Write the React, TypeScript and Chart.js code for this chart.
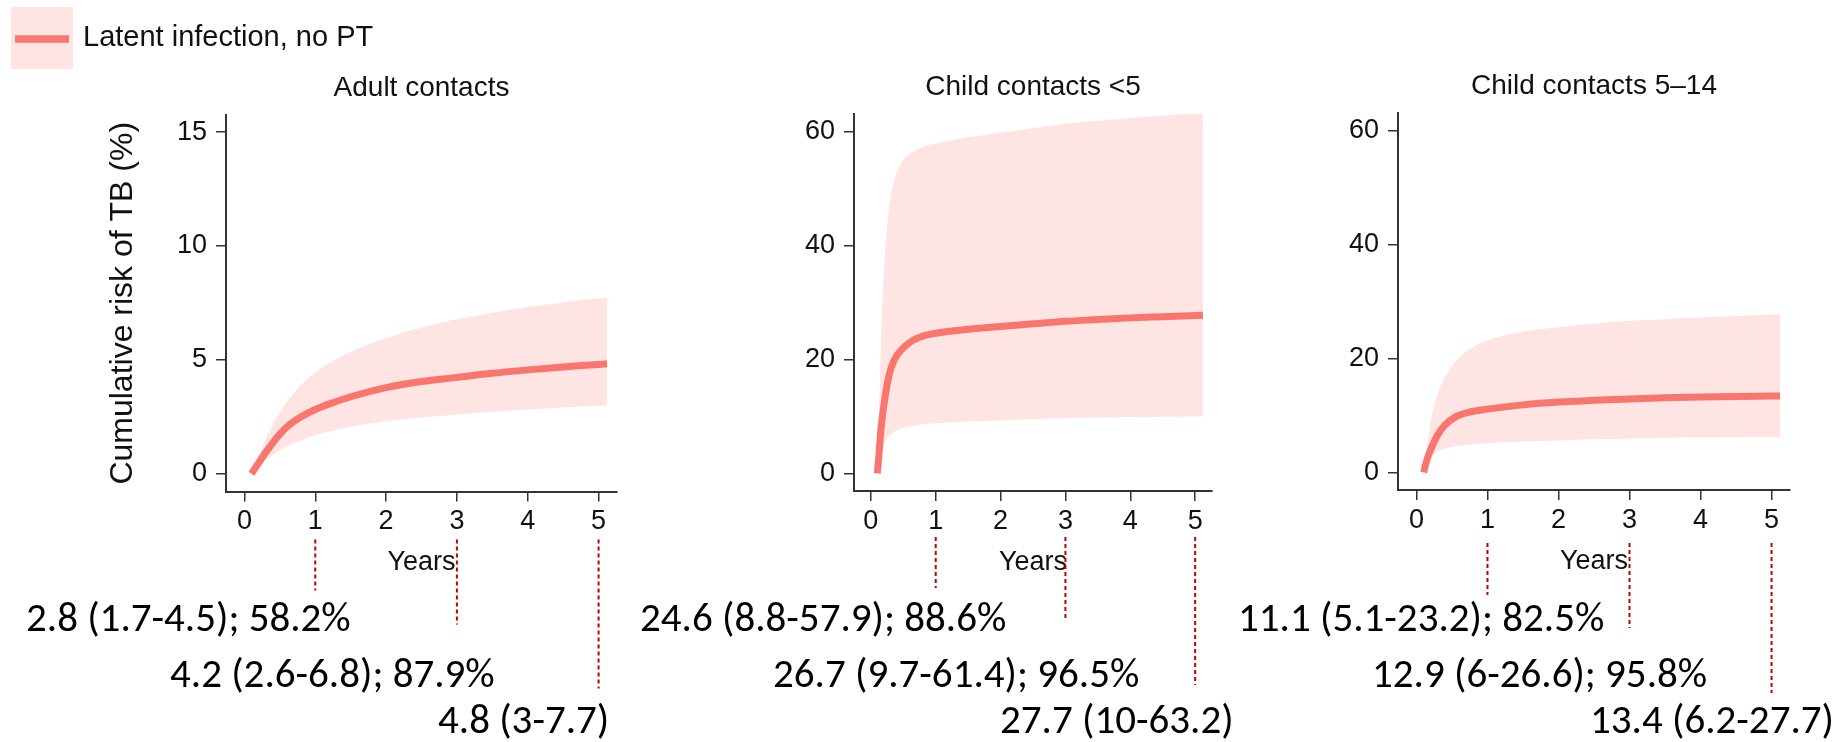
import React, { useEffect, useRef } from "react";
import { Chart, registerables } from "chart.js";

Chart.register(...registerables);

const W = 1847;
const H = 742;
const FONT = '"Liberation Sans", Arial, Helvetica, sans-serif';
const NOTE_FONT = 'Carlito, Calibri, Lato, sans-serif';
const LINE_COLOR = "#F8766D";
const BAND_COLOR = "rgba(248,118,109,0.2)";
const MARK_COLOR = "#C00000";
const AXIS_COLOR = "#333333";
const TEXT_COLOR = "#111111";

// ---- text ----
const legendLabel = "Latent infection, no PT";
const yTitle = "Cumulative risk of TB (%)";
const xTitle = "Years";
const panelTitles = ["Adult contacts", "Child contacts <5", "Child contacts 5–14"];

// ---- ticks ----
const xTicks = [0, 1, 2, 3, 4, 5];
const yTicksAdult = [0, 5, 10, 15];
const yTicksChild = [0, 20, 40, 60];
const markerYears = [1, 3, 5];

// ---- Adult contacts ----
const adultYears = [0.1, 0.2, 0.3, 0.4, 0.5, 0.6, 0.8, 1, 1.25, 1.5, 2, 2.5, 3, 3.5, 4, 4.5, 5, 5.12];
const adultRisk = [0, 0.47, 0.93, 1.36, 1.74, 2.06, 2.5, 2.82, 3.12, 3.38, 3.78, 4.05, 4.23, 4.41, 4.56, 4.69, 4.8, 4.83];
const adultUpper = [0, 0.75, 1.5, 2.15, 2.7, 3.15, 3.9, 4.45, 4.95, 5.35, 5.95, 6.42, 6.78, 7.07, 7.32, 7.52, 7.7, 7.74];
const adultLower = [0, 0.3, 0.58, 0.82, 1.03, 1.2, 1.47, 1.7, 1.9, 2.06, 2.3, 2.47, 2.6, 2.72, 2.82, 2.91, 2.98, 3.0];
const adultNotes = ["2.8 (1.7-4.5); 58.2%", "4.2 (2.6-6.8); 87.9%", "4.8 (3-7.7)"];

// ---- Child contacts <5 ----
const youngYears = [0.1, 0.128, 0.154, 0.205, 0.28, 0.36, 0.49, 0.64, 0.8, 1, 1.5, 2, 2.5, 3, 3.5, 4, 4.5, 5, 5.12];
const youngRisk = [0, 3.8, 7.6, 12.3, 17.2, 19.9, 21.9, 23.3, 24.1, 24.6, 25.3, 25.8, 26.25, 26.7, 27.0, 27.3, 27.5, 27.7, 27.75];
const youngUpper = [0, 10.5, 22, 36, 46.7, 51.4, 54.9, 56.4, 57.3, 57.9, 59, 59.8, 60.6, 61.4, 61.9, 62.4, 62.8, 63.2, 63.3];
const youngLower = [0, 2.2, 3.8, 5.3, 6.5, 7.3, 7.9, 8.3, 8.6, 8.8, 9.1, 9.3, 9.5, 9.7, 9.8, 9.9, 9.95, 10, 10.05];
const youngNotes = ["24.6 (8.8-57.9); 88.6%", "26.7 (9.7-61.4); 96.5%", "27.7 (10-63.2)"];

// ---- Child contacts 5-14 ----
const olderYears = [0.1, 0.15, 0.2, 0.3, 0.4, 0.55, 0.75, 1, 1.5, 2, 2.5, 3, 3.5, 4, 4.5, 5, 5.12];
const olderRisk = [0, 2.3, 4.0, 6.6, 8.3, 9.75, 10.6, 11.1, 11.85, 12.35, 12.65, 12.9, 13.08, 13.22, 13.32, 13.4, 13.42];
const olderUpper = [0, 4.5, 9.0, 13.8, 16.7, 19.4, 21.6, 23.2, 24.7, 25.5, 26.1, 26.6, 26.9, 27.2, 27.45, 27.7, 27.75];
const olderLower = [0, 1.8, 2.7, 3.7, 4.2, 4.6, 4.9, 5.1, 5.4, 5.6, 5.8, 5.95, 6.05, 6.1, 6.15, 6.2, 6.2];
const olderNotes = ["11.1 (5.1-23.2); 82.5%", "12.9 (6-26.6); 95.8%", "13.4 (6.2-27.7)"];

type Panel = {
  title: string;
  years: number[];
  risk: number[];
  upper: number[];
  lower: number[];
  yTicks: number[];
  yMin: number;
  yMax: number;
  notes: string[];
  area: { left: number; right: number; top: number; bottom: number };
  noteX: number[];
  markStart: number;
  markEnds: number[];
  showYTitle: boolean;
  showLegend: boolean;
};

const noteY = [621, 677, 723];

const panels: Panel[] = [
  {
    title: panelTitles[0], years: adultYears, risk: adultRisk, upper: adultUpper, lower: adultLower,
    yTicks: yTicksAdult, yMin: -0.78, yMax: 15.75, notes: adultNotes,
    area: { left: 226, right: 617, top: 115, bottom: 491.5 },
    noteX: [26, 170, 438], markStart: 48, markEnds: [99, 133, 197],
    showYTitle: true, showLegend: true,
  },
  {
    title: panelTitles[1], years: youngYears, risk: youngRisk, upper: youngUpper, lower: youngLower,
    yTicks: yTicksChild, yMin: -3.1, yMax: 63.1, notes: youngNotes,
    area: { left: 854, right: 1212, top: 114, bottom: 491 },
    noteX: [640, 773, 1000], markStart: 46, markEnds: [97, 129, 194],
    showYTitle: false, showLegend: false,
  },
  {
    title: panelTitles[2], years: olderYears, risk: olderRisk, upper: olderUpper, lower: olderLower,
    yTicks: yTicksChild, yMin: -3.1, yMax: 63.1, notes: olderNotes,
    area: { left: 1398, right: 1790, top: 113, bottom: 490 },
    noteX: [1238, 1372, 1590], markStart: 53, markEnds: [105, 138, 203],
    showYTitle: false, showLegend: false,
  },
];

const XH = 40;

const pts = (xs: number[], ys: number[]) => xs.map((x, i) => ({ x, y: ys[i] }));

function overlay(p: Panel) {
  return {
    id: "overlay",
    afterDraw(chart: any) {
      const { ctx, chartArea: a, scales } = chart;
      const xs = scales.x;
      const cx = (a.left + a.right) / 2;
      ctx.save();
      ctx.fillStyle = TEXT_COLOR;
      ctx.textBaseline = "middle";
      ctx.textAlign = "center";
      ctx.font = `28px ${FONT}`;
      ctx.fillText(p.title, cx, a.top - 27);
      ctx.font = `27px ${FONT}`;
      ctx.fillText(xTitle, cx, a.bottom + 71.5);
      if (p.showYTitle) {
        ctx.save();
        ctx.translate(123, (a.top + a.bottom) / 2);
        ctx.rotate(-Math.PI / 2);
        ctx.font = `32px ${FONT}`;
        ctx.fillText(yTitle, 0, 0);
        ctx.restore();
      }
      if (p.showLegend) {
        ctx.fillStyle = BAND_COLOR;
        ctx.fillRect(11, 7, 62, 62);
        ctx.strokeStyle = LINE_COLOR;
        ctx.lineWidth = 7.5;
        ctx.beginPath();
        ctx.moveTo(15, 39);
        ctx.lineTo(69, 39);
        ctx.stroke();
        ctx.fillStyle = TEXT_COLOR;
        ctx.textAlign = "left";
        ctx.font = `29px ${FONT}`;
        ctx.fillText(legendLabel, 83, 38);
      }
      // notes
      ctx.fillStyle = "#000000";
      ctx.textAlign = "left";
      ctx.font = `41px ${NOTE_FONT}`;
      p.notes.forEach((t, i) => ctx.fillText(t, p.noteX[i], noteY[i]));
      // dashed markers
      ctx.strokeStyle = MARK_COLOR;
      ctx.lineWidth = 2;
      ctx.setLineDash([4, 3]);
      markerYears.forEach((yr, i) => {
        const x = xs.getPixelForValue(yr);
        ctx.beginPath();
        ctx.moveTo(x, a.bottom + p.markStart);
        ctx.lineTo(x, a.bottom + p.markEnds[i]);
        ctx.stroke();
      });
      ctx.restore();
    },
  };
}

function makeConfig(p: Panel): any {
  const tickFont = { family: FONT, size: 27 };
  return {
    type: "line",
    data: {
      datasets: [
        {
          label: "estimate",
          data: pts(p.years, p.risk),
          borderColor: LINE_COLOR,
          borderWidth: 7,
          pointRadius: 0,
          fill: false,
          cubicInterpolationMode: "monotone",
        },
        {
          label: "upper",
          data: pts(p.years, p.upper),
          borderColor: "rgba(0,0,0,0)",
          borderWidth: 1,
          backgroundColor: BAND_COLOR,
          pointRadius: 0,
          fill: "+1",
          cubicInterpolationMode: "monotone",
        },
        {
          label: "lower",
          data: pts(p.years, p.lower),
          borderColor: "rgba(0,0,0,0)",
          borderWidth: 1,
          pointRadius: 0,
          fill: false,
          cubicInterpolationMode: "monotone",
        },
      ],
    },
    options: {
      animation: false,
      responsive: false,
      devicePixelRatio: 1,
      events: [],
      layout: {
        padding: {
          left: 0,
          top: p.area.top,
          right: W - p.area.right,
          bottom: H - p.area.bottom - XH,
        },
      },
      plugins: {
        legend: { display: false },
        title: { display: false },
        tooltip: { enabled: false },
      },
      scales: {
        x: {
          type: "linear",
          min: -0.26,
          max: 5.26,
          afterBuildTicks: (s: any) => {
            s.ticks = xTicks.map((v) => ({ value: v }));
          },
          afterFit: (s: any) => {
            s.height = XH;
          },
          grid: { drawOnChartArea: false, drawTicks: true, tickLength: 10, color: AXIS_COLOR, lineWidth: 1.5 },
          border: { display: true, color: AXIS_COLOR, width: 2 },
          ticks: {
            font: tickFont,
            color: TEXT_COLOR,
            padding: 4,
            maxRotation: 0,
            autoSkip: false,
            callback: (v: any) => String(v),
          },
        },
        y: {
          type: "linear",
          min: p.yMin,
          max: p.yMax,
          afterBuildTicks: (s: any) => {
            s.ticks = p.yTicks.map((v) => ({ value: v }));
          },
          afterFit: (s: any) => {
            s.width = p.area.left;
          },
          grid: { drawOnChartArea: false, drawTicks: true, tickLength: 10, color: AXIS_COLOR, lineWidth: 1.5 },
          border: { display: true, color: AXIS_COLOR, width: 2 },
          ticks: {
            font: tickFont,
            color: TEXT_COLOR,
            padding: 9,
            autoSkip: false,
            callback: (v: any) => String(v),
          },
        },
      },
    },
    plugins: [overlay(p)],
  };
}

function PanelChart({ p }: { p: Panel }) {
  const ref = useRef<HTMLCanvasElement>(null);
  useEffect(() => {
    if (!ref.current) return;
    const chart = new Chart(ref.current, makeConfig(p));
    return () => chart.destroy();
  }, [p]);
  return (
    <canvas
      ref={ref}
      width={W}
      height={H}
      style={{ position: "absolute", left: 0, top: 0, width: W, height: H }}
    />
  );
}

export default function App() {
  return (
    <div
      style={{
        position: "absolute",
        left: 0,
        top: 0,
        width: W,
        height: H,
        background: "#ffffff",
        overflow: "hidden",
      }}
    >
      {panels.map((p, i) => (
        <PanelChart key={i} p={p} />
      ))}
    </div>
  );
}
